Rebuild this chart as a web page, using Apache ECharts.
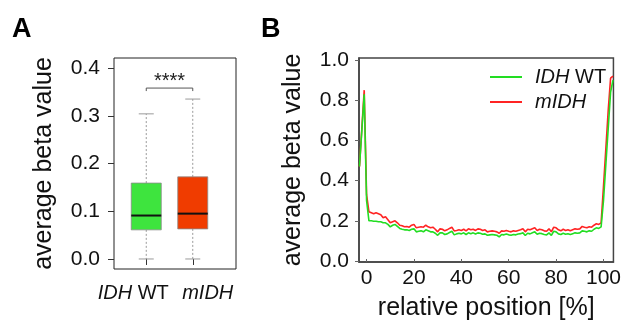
<!DOCTYPE html>
<html>
<head>
<meta charset="utf-8">
<script src="https://cdn.jsdelivr.net/npm/echarts@6/dist/echarts.min.js"></script>
<style>
  html, body { margin: 0; padding: 0; background: #fff; }
  #chart { width: 624px; height: 326px; }
</style>
</head>
<body>
<div id="chart"></div>
<script>
// Panel A: boxplot summary per group
const groups = ["IDH WT", "mIDH"];
const whiskerLow = [0.0, 0.0];
const q1 = [0.061, 0.063];
const median = [0.091, 0.095];
const q3 = [0.159, 0.172];
const whiskerHigh = [0.304, 0.335];
const sigLevel = 0.358;
const sigLabel = "****";
const yTicksA = [0, 0.1, 0.2, 0.3, 0.4];

// Panel B: average beta value along relative position
const positions = [
  -3, -2, -1, 0, 1, 2, 3, 4, 5, 6,
  7, 8, 9, 10, 11, 12, 13, 14, 15, 16,
  17, 18, 19, 20, 21, 22, 23, 24, 25, 26,
  27, 28, 29, 30, 31, 32, 33, 34, 35, 36,
  37, 38, 39, 40, 41, 42, 43, 44, 45, 46,
  47, 48, 49, 50, 51, 52, 53, 54, 55, 56,
  57, 58, 59, 60, 61, 62, 63, 64, 65, 66,
  67, 68, 69, 70, 71, 72, 73, 74, 75, 76,
  77, 78, 79, 80, 81, 82, 83, 84, 85, 86,
  87, 88, 89, 90, 91, 92, 93, 94, 95, 96,
  97, 98, 99, 100, 101, 102, 103, 104
];
const mIDH = [
  0.47, 0.66, 0.85, 0.33, 0.245, 0.24, 0.235, 0.24, 0.235, 0.23,
  0.215, 0.22, 0.205, 0.19, 0.195, 0.2, 0.19, 0.178, 0.175, 0.17,
  0.172, 0.168, 0.178, 0.182, 0.165, 0.168, 0.17, 0.168, 0.178, 0.17,
  0.165, 0.168, 0.158, 0.145, 0.16, 0.158, 0.15, 0.155, 0.162, 0.168,
  0.15, 0.152, 0.155, 0.152, 0.158, 0.15, 0.16, 0.155, 0.158, 0.152,
  0.16, 0.158, 0.152, 0.155, 0.145, 0.148, 0.15, 0.148, 0.145, 0.138,
  0.15, 0.148, 0.152, 0.148, 0.145, 0.15, 0.148, 0.152, 0.155, 0.16,
  0.145, 0.158, 0.155, 0.16, 0.165, 0.152, 0.158, 0.155, 0.15, 0.148,
  0.16, 0.145, 0.168, 0.165, 0.155, 0.15, 0.158, 0.152, 0.155, 0.15,
  0.155, 0.16, 0.158, 0.16, 0.172, 0.168, 0.165, 0.17, 0.168, 0.178,
  0.185, 0.182, 0.19, 0.37, 0.56, 0.75, 0.91, 0.92
];
const idhWT = [
  0.47, 0.65, 0.83, 0.3, 0.2, 0.2, 0.198, 0.198, 0.195, 0.195,
  0.19, 0.19, 0.182, 0.17, 0.178, 0.182, 0.172, 0.162, 0.158, 0.155,
  0.155, 0.152, 0.158, 0.16, 0.145, 0.148, 0.15, 0.145, 0.155, 0.15,
  0.145, 0.145, 0.138, 0.128, 0.14, 0.14, 0.132, 0.135, 0.142, 0.148,
  0.13, 0.135, 0.138, 0.135, 0.14, 0.132, 0.14, 0.136, 0.14, 0.134,
  0.14, 0.138, 0.133, 0.135, 0.128, 0.13, 0.132, 0.13, 0.128, 0.12,
  0.132, 0.13, 0.134, 0.13, 0.128, 0.132, 0.13, 0.134, 0.136, 0.14,
  0.127, 0.138, 0.135, 0.14, 0.145, 0.133, 0.138, 0.136, 0.132, 0.13,
  0.14, 0.127, 0.148, 0.145, 0.135, 0.132, 0.138, 0.133, 0.136, 0.132,
  0.136, 0.14, 0.138, 0.14, 0.15, 0.148, 0.145, 0.15, 0.148, 0.158,
  0.165, 0.162, 0.17, 0.3, 0.48, 0.66, 0.84, 0.9
];
const xTicksB = [0, 20, 40, 60, 80, 100];
const yTicksB = [0, 0.2, 0.4, 0.6, 0.8, 1.0];

const FONT = "'Liberation Sans', Arial, sans-serif";
const boxColors = ["#3ee43e", "#f03c00"];
const italicName = (v) => v.replace(/(m?IDH)/, "{i|$1}");
// the two group labels sit spread apart from their ticks, as in the figure
const groupLabel = (v, idx) => (idx === 0 ? italicName(v) + "{gapR|}" : "{gapL|}" + italicName(v));

const chart = echarts.init(document.getElementById("chart"), null, { renderer: "canvas" });

const boxRows = groups.map((g, i) => [i, whiskerLow[i], q1[i], median[i], q3[i], whiskerHigh[i]]);

const option = {
  animation: false,
  backgroundColor: "#fff",
  textStyle: { fontFamily: FONT, color: "#111" },
  graphic: [
    { type: "text", left: 12, top: 16, style: { text: "A", font: "bold 27px " + FONT, fill: "#000" } },
    { type: "text", left: 261, top: 16, style: { text: "B", font: "bold 27px " + FONT, fill: "#000" } },
  ],
  grid: [
    // frame of panel A
    { left: 114, top: 58, width: 122, height: 211, show: true, borderColor: "#222", borderWidth: 1, containLabel: false },
    // boxes of panel A
    { left: 123, top: 58, width: 93, height: 211, containLabel: false },
    // panel B
    { left: 359, top: 58, width: 256, height: 211, show: true, borderColor: "#444", borderWidth: 1.5, containLabel: false },
  ],
  xAxis: [
    { gridIndex: 0, type: "value", show: false, min: 0, max: 1 },
    {
      gridIndex: 1,
      type: "category",
      data: groups,
      boundaryGap: true,
      axisLine: { show: false },
      axisTick: { show: true, alignWithLabel: true, interval: 0, length: 6, lineStyle: { color: "#333" } },
      axisLabel: {
        interval: 0,
        hideOverlap: false,
        margin: 14,
        fontSize: 20,
        color: "#111",
        formatter: groupLabel,
        rich: {
          i: { fontStyle: "italic", fontSize: 20, fontFamily: FONT, color: "#111" },
          gapR: { width: 26 },
          gapL: { width: 30 },
        },
      },
    },
    {
      gridIndex: 2,
      type: "value",
      min: -3.2,
      max: 104.2,
      axisLine: { show: true, onZero: false, lineStyle: { color: "#444", width: 1.5 } },
      axisTick: { show: true, inside: true, length: 3, customValues: xTicksB, lineStyle: { color: "#666" } },
      axisLabel: { customValues: xTicksB, margin: 6, fontSize: 21, color: "#111" },
      splitLine: { show: false },
      name: "relative position [%]",
      nameLocation: "middle",
      nameGap: 34,
      nameTextStyle: { fontSize: 25, color: "#111" },
    },
  ],
  yAxis: [
    { gridIndex: 0, type: "value", show: false, min: 0, max: 1 },
    {
      gridIndex: 1,
      type: "value",
      min: -0.021,
      max: 0.421,
      offset: 9,
      axisLine: { show: false, onZero: false },
      axisTick: { show: true, length: 6, customValues: yTicksA, lineStyle: { color: "#333" } },
      axisLabel: { customValues: yTicksA, margin: 14, fontSize: 21, color: "#111", formatter: (v) => v.toFixed(1) },
      splitLine: { show: false },
      name: "average beta value",
      nameLocation: "middle",
      nameGap: 57,
      nameTextStyle: { fontSize: 25, color: "#111" },
    },
    {
      gridIndex: 2,
      type: "value",
      min: -0.005,
      max: 1.01,
      axisLine: { show: true, onZero: false, lineStyle: { color: "#444", width: 1.5 } },
      axisTick: { show: true, length: 4, customValues: yTicksB, lineStyle: { color: "#666" } },
      axisLabel: { customValues: yTicksB, margin: 10, fontSize: 21, color: "#111", formatter: (v) => v.toFixed(1) },
      splitLine: { show: false },
      name: "average beta value",
      nameLocation: "middle",
      nameGap: 53,
      nameTextStyle: { fontSize: 25, color: "#111" },
    },
  ],
  legend: {
    left: 485,
    top: 62,
    orient: "vertical",
    itemGap: 5,
    itemWidth: 32,
    itemHeight: 2,
    icon: "rect",
    data: ["IDH WT", "mIDH"],
    formatter: italicName,
    textStyle: {
      fontSize: 20,
      lineHeight: 20,
      color: "#111",
      padding: [0, 0, 0, 8],
      rich: { i: { fontStyle: "italic", fontSize: 20, lineHeight: 20, fontFamily: FONT, color: "#111" } },
    },
  },
  series: [
    {
      type: "custom",
      name: "boxes",
      xAxisIndex: 1,
      yAxisIndex: 1,
      data: boxRows,
      encode: { x: 0, y: [1, 2, 3, 4, 5] },
      renderItem: (params, api) => {
        const i = api.value(0);
        const pMin = api.coord([i, api.value(1)]);
        const pQ1 = api.coord([i, api.value(2)]);
        const pMed = api.coord([i, api.value(3)]);
        const pQ3 = api.coord([i, api.value(4)]);
        const pMax = api.coord([i, api.value(5)]);
        const cx = pMed[0];
        const hw = 15;
        const cap = 7.5;
        const grey = "#9a9a9a";
        return {
          type: "group",
          children: [
            { type: "line", shape: { x1: cx, y1: pQ3[1], x2: cx, y2: pMax[1] }, style: { stroke: grey, lineWidth: 1, lineDash: [2, 2] } },
            { type: "line", shape: { x1: cx, y1: pQ1[1], x2: cx, y2: pMin[1] }, style: { stroke: grey, lineWidth: 1, lineDash: [2, 2] } },
            { type: "line", shape: { x1: cx - cap, y1: pMax[1], x2: cx + cap, y2: pMax[1] }, style: { stroke: grey, lineWidth: 1 } },
            { type: "line", shape: { x1: cx - cap, y1: pMin[1], x2: cx + cap, y2: pMin[1] }, style: { stroke: grey, lineWidth: 1 } },
            { type: "rect", shape: { x: cx - hw, y: pQ3[1], width: 2 * hw, height: pQ1[1] - pQ3[1] }, style: { fill: boxColors[i], stroke: "#8a8a8a", lineWidth: 0.8 } },
            { type: "line", shape: { x1: cx - hw, y1: pMed[1], x2: cx + hw, y2: pMed[1] }, style: { stroke: "#111", lineWidth: 2 } },
          ],
        };
      },
    },
    {
      type: "custom",
      name: "significance",
      xAxisIndex: 1,
      yAxisIndex: 1,
      data: [[0, 1, sigLevel]],
      encode: { x: [0, 1], y: 2 },
      renderItem: (params, api) => {
        const a = api.coord([api.value(0), api.value(2)]);
        const b = api.coord([api.value(1), api.value(2)]);
        const y = a[1];
        return {
          type: "group",
          children: [
            {
              type: "polyline",
              shape: { points: [[a[0], y + 3], [a[0], y], [b[0], y], [b[0], y + 3]] },
              style: { stroke: "#555", lineWidth: 1, fill: null },
            },
            {
              type: "text",
              x: (a[0] + b[0]) / 2,
              y: y - 7,
              style: { text: sigLabel, font: "20px " + FONT, fill: "#222", align: "center", verticalAlign: "middle" },
            },
          ],
        };
      },
    },
    {
      type: "line",
      name: "mIDH",
      xAxisIndex: 2,
      yAxisIndex: 2,
      data: positions.map((x, k) => [x, mIDH[k]]),
      showSymbol: false,
      color: "#ff2424",
      lineStyle: { width: 1.6, color: "#ff2424" },
    },
    {
      type: "line",
      name: "IDH WT",
      xAxisIndex: 2,
      yAxisIndex: 2,
      data: positions.map((x, k) => [x, idhWT[k]]),
      showSymbol: false,
      color: "#22dd22",
      lineStyle: { width: 1.6, color: "#22dd22" },
    },
  ],
};

chart.setOption(option);
</script>
</body>
</html>
